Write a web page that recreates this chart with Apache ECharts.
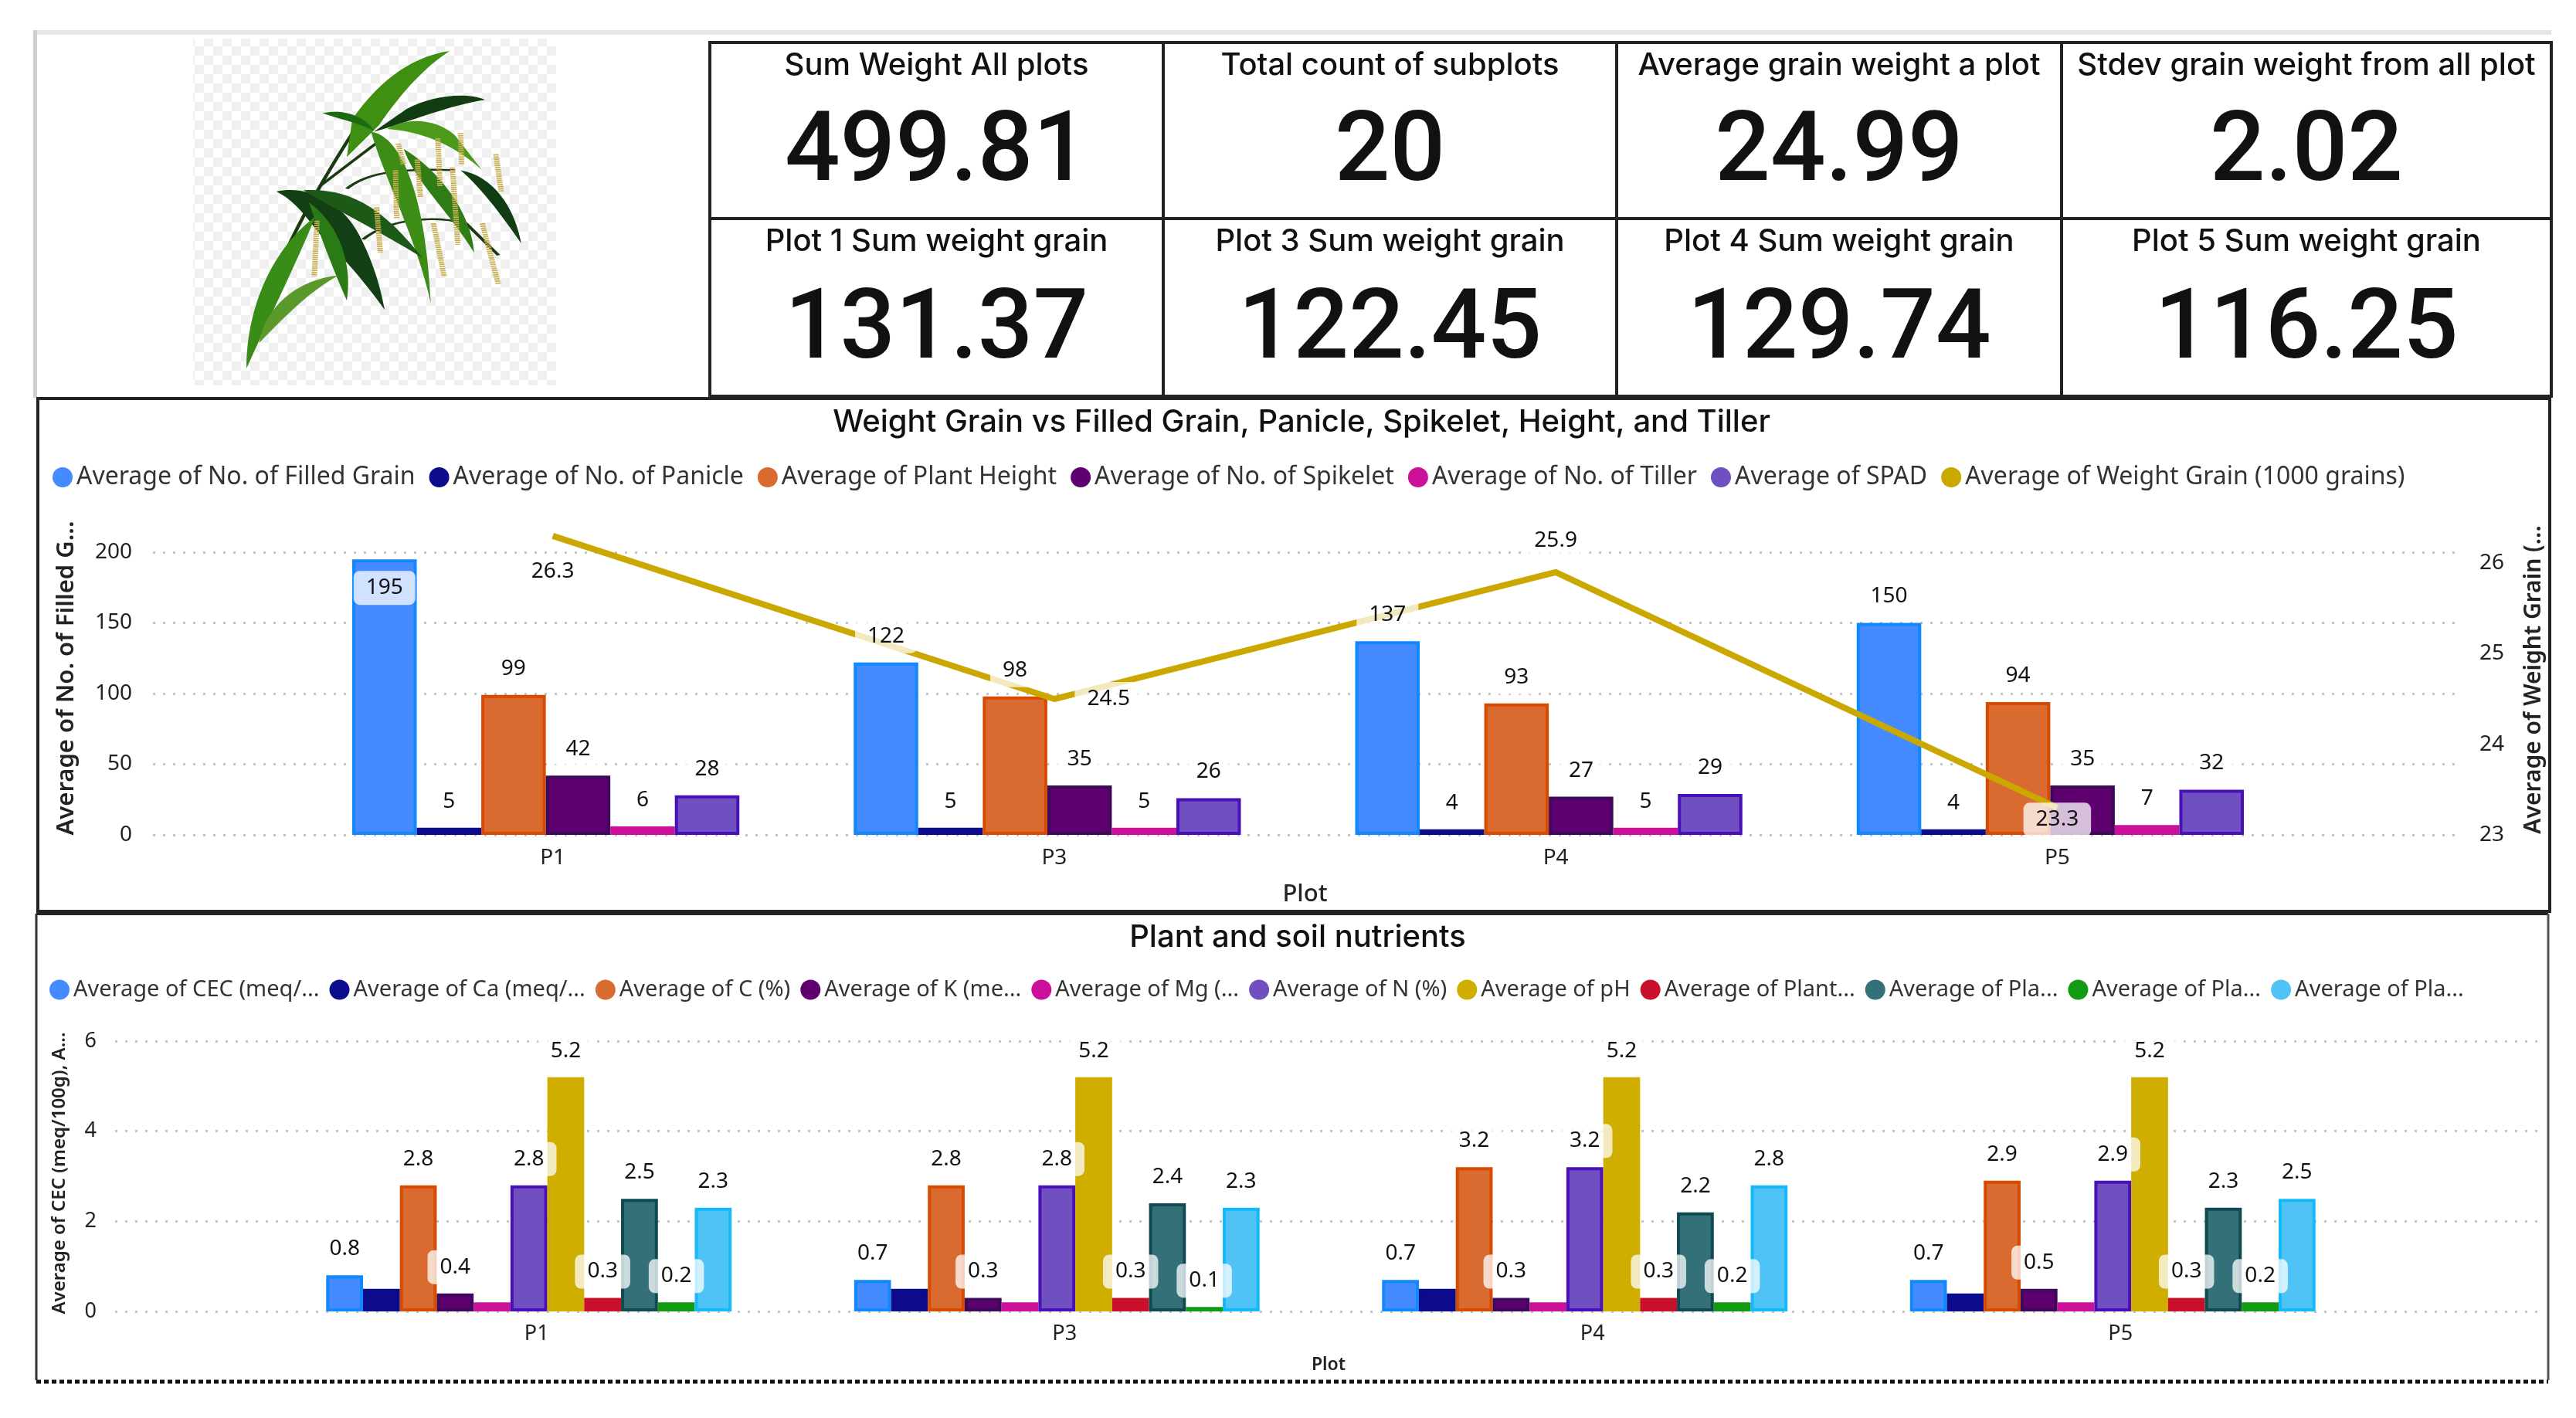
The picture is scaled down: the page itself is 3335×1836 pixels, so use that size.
<!DOCTYPE html>
<html>
<head>
<meta charset="utf-8">
<style>html,body{margin:0;background:#fff}</style>
</head>
<body>
<div id="main" style="width:3335px;height:1836px;"></div>
<script src="https://cdn.jsdelivr.net/npm/echarts@6/dist/echarts.min.js"></script>
<script>
// kpi cards
var kpiTitles = [
  'Sum Weight All plots', 'Total count of subplots', 'Average grain weight a plot', 'Stdev grain weight from all plot',
  'Plot 1 Sum weight grain', 'Plot 3 Sum weight grain', 'Plot 4 Sum weight grain', 'Plot 5 Sum weight grain'
];
var kpiValues = ['499.81', '20', '24.99', '2.02', '131.37', '122.45', '129.74', '116.25'];

// top chart
var plots = ['P1', 'P3', 'P4', 'P5'];
var filledGrain = [195, 122, 137, 150];
var panicle = [5, 5, 4, 4];
var plantHeight = [99, 98, 93, 94];
var spikelet = [42, 35, 27, 35];
var tiller = [6, 5, 5, 7];
var spad = [28, 26, 29, 32];
var weightGrain = [26.3, 24.5, 25.9, 23.3];

// bottom chart
var cec = [0.8, 0.7, 0.7, 0.7];
var ca = [0.5, 0.5, 0.5, 0.4];
var carbon = [2.8, 2.8, 3.2, 2.9];
var potassium = [0.4, 0.3, 0.3, 0.5];
var mg = [0.2, 0.2, 0.2, 0.2];
var nitrogen = [2.8, 2.8, 3.2, 2.9];
var ph = [5.2, 5.2, 5.2, 5.2];
var plantA = [0.3, 0.3, 0.3, 0.3];
var plaB = [2.5, 2.4, 2.2, 2.3];
var plaC = [0.2, 0.1, 0.2, 0.2];
var plaD = [2.3, 2.3, 2.8, 2.5];

var FONT = '"Noto Sans"';
var HEAD = 'Inter';

var topBars = [
  {name: 'Average of No. of Filled Grain', data: filledGrain, fill: '#448BFF', edge: '#1288FF', label: true},
  {name: 'Average of No. of Panicle', data: panicle, fill: '#0B0B8C', edge: '#0B0B8C', label: true},
  {name: 'Average of Plant Height', data: plantHeight, fill: '#D96B30', edge: '#D84A00', label: true},
  {name: 'Average of No. of Spikelet', data: spikelet, fill: '#5E0070', edge: '#3D0A5A', label: true},
  {name: 'Average of No. of Tiller', data: tiller, fill: '#CC1099', edge: '#CC1099', label: true},
  {name: 'Average of SPAD', data: spad, fill: '#7050C0', edge: '#4A10B8', label: true}
];
var lineName = 'Average of Weight Grain (1000 grains)';
var lineSpots = [['bottom', 24], ['right', 26], ['top', 18], ['bottom', -7]];

var lowBars = [
  {name: 'CEC', text: 'Average of CEC (meq/...', data: cec, fill: '#448BFF', edge: '#1288FF', label: true},
  {name: 'Ca', text: 'Average of Ca (meq/...', data: ca, fill: '#0B0B8C', edge: '#0B0B8C', label: false},
  {name: 'C', text: 'Average of C (%)', data: carbon, fill: '#D96B30', edge: '#D84A00', label: true},
  {name: 'K', text: 'Average of K (me...', data: potassium, fill: '#5E0070', edge: '#3D0A5A', label: true},
  {name: 'Mg', text: 'Average of Mg (...', data: mg, fill: '#CC1099', edge: '#CC1099', label: false},
  {name: 'N', text: 'Average of N (%)', data: nitrogen, fill: '#7050C0', edge: '#4A10B8', label: true},
  {name: 'pH', text: 'Average of pH', data: ph, fill: '#CFAE00', edge: '#CFAE00', label: true},
  {name: 'Plant', text: 'Average of Plant...', data: plantA, fill: '#C8102A', edge: '#C8102A', label: true},
  {name: 'PlaB', text: 'Average of Pla...', data: plaB, fill: '#337078', edge: '#0F4A50', label: true},
  {name: 'PlaC', text: 'Average of Pla...', data: plaC, fill: '#129A12', edge: '#129A12', label: true},
  {name: 'PlaD', text: 'Average of Pla...', data: plaD, fill: '#4FC3F5', edge: '#14B9F9', label: true}
];

var myChart = echarts.init(document.getElementById('main'));

function valueLabel() {
  return {
    show: true, position: 'top', distance: 12, color: '#111', fontFamily: FONT, fontSize: 28,
    backgroundColor: 'rgba(255,255,255,0.75)', borderRadius: 8, padding: [5, 16], lineHeight: 34
  };
}

function barSeries(b, xIndex, yIndex, bigFrom, gap) {
  return {
    type: 'bar', name: b.name, xAxisIndex: xIndex, yAxisIndex: yIndex,
    barGap: 0, barCategoryGap: gap,
    data: b.data.map(function (v) {
      // a bar near the axis top keeps its label inside
      return v >= bigFrom ? {value: v, label: {position: 'insideTop', distance: 15}} : v;
    }),
    itemStyle: {color: b.fill, borderColor: b.edge, borderWidth: 4},
    label: b.label ? valueLabel() : {show: false}
  };
}

// see-through copy of a bar, it only carries the label above the grain line
function labelCarrier(b, xIndex, yIndex, bigFrom, gap) {
  var s = barSeries(b, xIndex, yIndex, bigFrom, gap);
  s.z = 6;
  s.silent = true;
  s.itemStyle = {color: 'transparent', borderWidth: 0};
  return s;
}

var dotted = {show: true, lineStyle: {color: '#c4c4c4', type: [3, 10], width: 3}};
var axisText = {color: '#222', fontFamily: FONT};

var grids = [
  {left: 198, top: 715, width: 2983, height: 366},   // top frame
  {left: 382, top: 715, width: 2597, height: 366},   // top bars
  {left: 391, top: 715, width: 2597, height: 366},   // top line + labels
  {left: 149, top: 1348, width: 3136, height: 350},  // low frame
  {left: 343, top: 1348, width: 2734, height: 350},  // low bars
  {left: 353, top: 1348, width: 2734, height: 350},  // low labels
  {left: 382, top: 715, width: 2597, height: 366}    // top bar value labels
];

function hiddenX(i) {
  return {type: 'category', gridIndex: i, data: plots, show: false};
}

var xAxes = [
  hiddenX(0), hiddenX(1),
  {
    type: 'category', gridIndex: 2, data: plots,
    axisLine: {show: false}, axisTick: {show: false},
    axisLabel: Object.assign({fontSize: 28, margin: 16}, axisText),
    name: 'Plot', nameLocation: 'middle', nameGap: 62,
    nameTextStyle: {color: '#222', fontFamily: FONT, fontSize: 31, fontWeight: 500}
  },
  hiddenX(3), hiddenX(4),
  {
    type: 'category', gridIndex: 5, data: plots,
    axisLine: {show: false}, axisTick: {show: false},
    axisLabel: Object.assign({fontSize: 27, margin: 16}, axisText),
    name: 'Plot', nameLocation: 'middle', nameGap: 58,
    nameTextStyle: {color: '#222', fontFamily: FONT, fontSize: 23, fontWeight: 600}
  },
  hiddenX(6)
];

var yAxes = [
  {
    type: 'value', gridIndex: 0, min: 0, max: 200, interval: 50,
    axisLine: {show: false}, axisTick: {show: false}, splitLine: dotted,
    axisLabel: Object.assign({fontSize: 28, margin: 27}, axisText),
    name: 'Average of No. of Filled G...', nameLocation: 'middle', nameGap: 96, nameRotate: 90,
    nameTextStyle: {color: '#222', fontFamily: FONT, fontSize: 31, fontWeight: 600, padding: [0, 0, 0, 40]}
  },
  {
    type: 'value', gridIndex: 0, position: 'right', min: 23, max: 26.12, interval: 1,
    axisLine: {show: false}, axisTick: {show: false}, splitLine: {show: false},
    axisLabel: Object.assign({fontSize: 28, margin: 29, showMaxLabel: false}, axisText),
    name: 'Average of Weight Grain (...', nameLocation: 'middle', nameGap: 84, nameRotate: 90,
    nameTextStyle: {color: '#222', fontFamily: FONT, fontSize: 30, fontWeight: 600, padding: [0, 0, 0, 36]}
  },
  {type: 'value', gridIndex: 1, min: 0, max: 200, show: false},
  {type: 'value', gridIndex: 2, min: 23, max: 26.12, show: false},
  {
    type: 'value', gridIndex: 3, min: 0, max: 6, interval: 2,
    axisLine: {show: false}, axisTick: {show: false}, splitLine: dotted,
    axisLabel: Object.assign({fontSize: 27, margin: 24}, axisText),
    name: 'Average of CEC (meq/100g), A...', nameLocation: 'middle', nameGap: 60, nameRotate: 90,
    nameTextStyle: {color: '#222', fontFamily: FONT, fontSize: 24, fontWeight: 600, padding: [0, 0, 0, 8]}
  },
  {type: 'value', gridIndex: 4, min: 0, max: 6, show: false},
  {type: 'value', gridIndex: 5, min: 0, max: 6, show: false},
  {type: 'value', gridIndex: 6, min: 0, max: 200, show: false}
];

var series = [];
topBars.forEach(function (b) {
  var s = barSeries(b, 1, 2, Infinity, '22.8%');
  s.label = {show: false};
  series.push(s);
  series.push(labelCarrier(b, 6, 7, 190, '22.8%'));
});
lowBars.forEach(function (b) { series.push(barSeries(b, 4, 5, Infinity, '23.2%')); });
series.push({
  type: 'line', name: lineName, xAxisIndex: 2, yAxisIndex: 3, clip: false,
  symbol: 'none', color: '#CBA800', lineStyle: {color: '#CBA800', width: 8},
  data: weightGrain
});
// the grain labels sit over the line, so they get their own see-through line
series.push({
  type: 'line', name: lineName, xAxisIndex: 2, yAxisIndex: 3, clip: false, z: 6, silent: true,
  symbol: 'none', color: '#CBA800', lineStyle: {opacity: 0},
  data: weightGrain.map(function (v, i) {
    return {
      value: v, symbol: 'circle', symbolSize: 1, itemStyle: {color: 'transparent'},
      label: {show: true, position: lineSpots[i][0], distance: lineSpots[i][1]}
    };
  }),
  label: valueLabel()
});

var lowText = {};
lowBars.forEach(function (b) { lowText[b.name] = b.text; });

// rice plant picture, drawn in the coordinates of a 1568 square crop of the photo
var leaves = [
  ['M830 192C750 215 690 330 650 450L640 590L700 470C740 350 785 250 830 192Z', '#3F8F12'],
  ['M895 375C860 345 795 360 750 410L690 495C760 455 830 395 895 375Z', '#123D12'],
  ['M595 425C630 410 670 430 690 490C650 455 620 445 595 425Z', '#1C6B14'],
  ['M715 485C750 440 805 445 840 510L890 640C850 565 790 495 715 485Z', '#4C9A1C'],
  ['M685 495C735 510 785 700 795 1140C770 900 705 650 685 495Z', '#3C8C16'],
  ['M745 560C810 640 870 800 875 950C830 800 765 680 745 560Z', '#2F7D14'],
  ['M850 640C910 660 950 780 962 915C920 790 880 690 850 640Z', '#123D12'],
  ['M510 720C570 695 630 760 662 880C690 990 702 1080 710 1165C670 1050 625 950 590 880C560 800 540 750 510 720Z', '#123F14'],
  ['M560 715C650 705 710 790 780 970C710 880 630 800 560 715Z', '#1D5A17'],
  ['M570 760C630 850 650 1000 640 1130C612 1000 590 880 570 760Z', '#2A7A16'],
  ['M582 815C505 930 455 1150 455 1385C495 1200 545 1000 582 815Z', '#3A8C18'],
  ['M625 1035C550 1050 490 1150 478 1290C530 1180 575 1090 625 1035Z', '#5A9A2A']
];
var stems = [
  'M470 1300C490 1100 530 880 660 470', 'M590 700L700 530', 'M640 710C670 660 720 630 840 640',
  'M670 900C720 820 800 810 860 840L920 960'
];
var panicles = [
  'M730 640L732 820', 'M808 520L812 700', 'M585 830L580 1040', 'M695 780L702 950', 'M915 580L925 720',
  'M890 840L920 1070', 'M800 840L820 1040', 'M835 630L845 920', 'M770 600L776 740', 'M850 500L852 620',
  'M735 540L745 620'
];

var shapeCount = 0;
function pathEl(d, style) {
  var type = 'plantPath' + (shapeCount++);
  echarts.graphic.registerShape(type, echarts.graphic.extendPath(d, {}));
  return {type: type, style: style};
}

function plantGraphic() {
  var kids = [];
  stems.forEach(function (d) {
    kids.push(pathEl(d, {fill: null, stroke: '#1B3A12', lineWidth: 7}));
  });
  leaves.forEach(function (l) {
    kids.push(pathEl(l[0], {fill: l[1]}));
  });
  panicles.forEach(function (d) {
    kids.push(pathEl(d, {fill: null, stroke: '#C8AE50', lineWidth: 10, lineDash: [5, 3]}));
  });
  return {type: 'group', x: 0, y: 0, scaleX: 1 / 1.4255, scaleY: 1 / 2.904, children: kids};
}

var checker = document.createElement('canvas');
checker.width = checker.height = 24;
(function () {
  var c = checker.getContext('2d');
  c.fillStyle = '#fff';
  c.fillRect(0, 0, 24, 24);
  c.fillStyle = '#F0F0F0';
  c.fillRect(0, 0, 12, 12);
  c.fillRect(12, 12, 12, 12);
})();

var cardX = [919, 1506, 2093, 2669, 3303];
var cardY = [55, 283, 513];

function frames() {
  var g = [];
  // outer light edge of the picture area
  g.push({type: 'rect', shape: {x: 43, y: 39, width: 3260, height: 6}, style: {fill: '#E6E6E6'}});
  g.push({type: 'rect', shape: {x: 43, y: 39, width: 5, height: 476}, style: {fill: '#CFCFCF'}});
  g.push({type: 'rect', shape: {x: 250, y: 50, width: 470, height: 449}, style: {fill: {image: checker, repeat: 'repeat'}}});
  g.push(plantGraphic());
  // kpi cards
  kpiTitles.forEach(function (t, i) {
    var col = i % 4, row = i < 4 ? 0 : 1;
    var x0 = cardX[col], x1 = cardX[col + 1], y0 = cardY[row], y1 = cardY[row + 1];
    g.push({
      type: 'rect', shape: {x: x0, y: y0, width: x1 - x0, height: y1 - y0},
      style: {fill: '#fff', stroke: '#222', lineWidth: 4}
    });
    g.push({
      type: 'text', x: (x0 + x1) / 2, y: y0 + 30,
      style: {text: t, fill: '#111', font: '500 40px ' + HEAD, textAlign: 'center', textVerticalAlign: 'middle'}
    });
    g.push({
      type: 'text', x: (x0 + x1) / 2, y: y0 + 146 + row * 2,
      style: {text: kpiValues[i], fill: '#111', font: '500 126px Roboto', textAlign: 'center', textVerticalAlign: 'middle'}
    });
  });
  // chart panels
  g.push({type: 'rect', shape: {x: 49, y: 516, width: 3252, height: 664}, style: {fill: null, stroke: '#222', lineWidth: 4}});
  g.push({type: 'line', shape: {x1: 47, y1: 1183, x2: 3299, y2: 1183}, style: {stroke: '#222', lineWidth: 4}});
  g.push({type: 'line', shape: {x1: 47, y1: 1183, x2: 47, y2: 1787}, style: {stroke: '#333', lineWidth: 3}});
  g.push({type: 'line', shape: {x1: 3299, y1: 1183, x2: 3299, y2: 1787}, style: {stroke: '#555', lineWidth: 3}});
  g.push({type: 'line', shape: {x1: 47, y1: 1789, x2: 3299, y2: 1789}, style: {stroke: '#111', lineWidth: 5, lineDash: [6, 4]}});
  return g;
}

var legendBase = {icon: 'circle', itemWidth: 26, itemHeight: 26, itemStyle: {borderWidth: 0}};

var option = {
  animation: false,
  backgroundColor: '#fff',
  title: [
    {
      text: 'Weight Grain vs Filled Grain, Panicle, Spikelet, Height, and Tiller', left: 1680, top: 522, textAlign: 'center',
      textStyle: {fontFamily: HEAD, fontSize: 40, fontWeight: 500, color: '#111'}
    },
    {
      text: 'Plant and soil nutrients', left: 1675, top: 1189, textAlign: 'center',
      textStyle: {fontFamily: HEAD, fontSize: 40, fontWeight: 500, color: '#111'}
    }
  ],
  legend: [
    Object.assign({
      left: 63, top: 597, itemGap: 18,
      data: topBars.map(function (b) { return b.name; }).concat([lineName]),
      textStyle: {fontFamily: FONT, fontSize: 32, color: '#333'}
    }, legendBase),
    Object.assign({
      left: 59, top: 1262, itemGap: 13,
      data: lowBars.map(function (b) { return b.name; }),
      formatter: function (n) { return lowText[n]; },
      textStyle: {fontFamily: FONT, fontSize: 29, color: '#333'}
    }, legendBase)
  ],
  grid: grids,
  xAxis: xAxes,
  yAxis: yAxes,
  series: series,
  graphic: {elements: frames().map(function (e) { return Object.assign({z: -1, silent: true}, e); })}
};
myChart.setOption(option);
</script>
</body>
</html>
